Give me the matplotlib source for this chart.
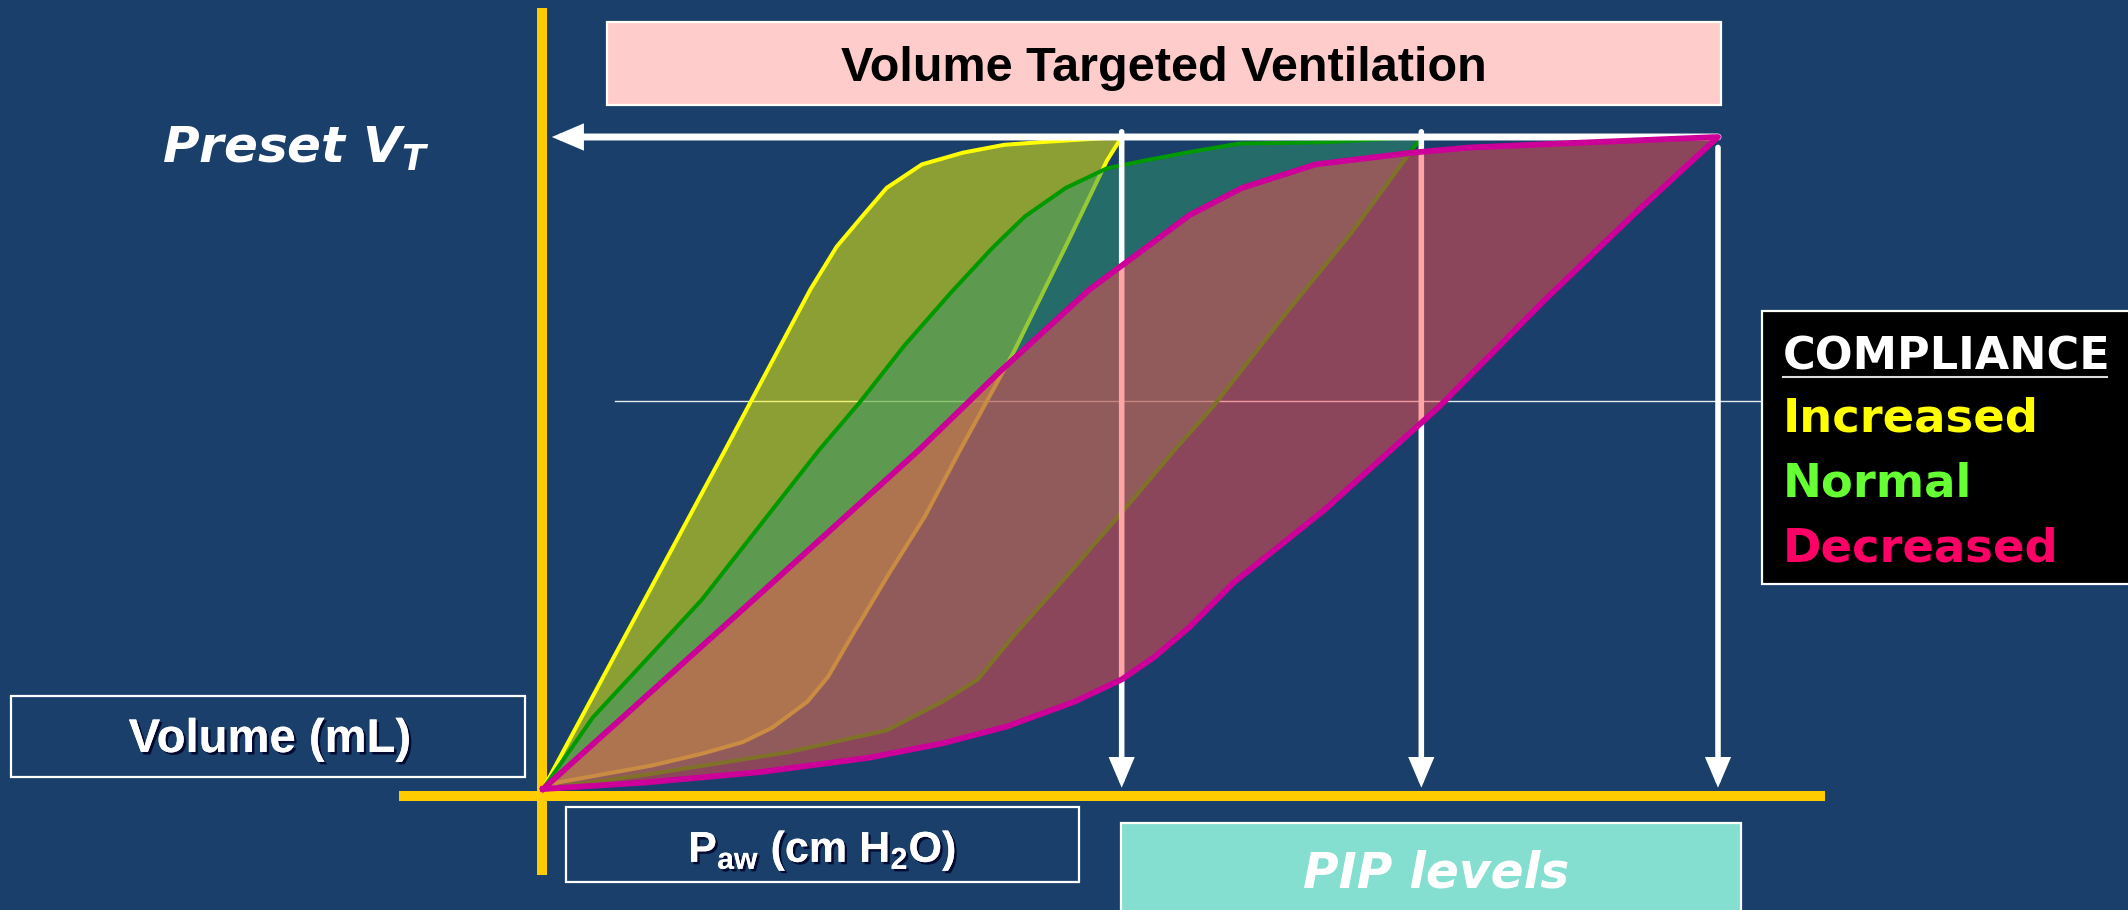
import matplotlib
matplotlib.use('Agg')
import matplotlib.pyplot as plt
import matplotlib.patheffects as pe
from matplotlib.patches import Rectangle

# Pressure-volume loops, volume targeted ventilation
# pressure in cm H2O, volume in mL
VT = 500
pip_levels = [19.7, 29.9, 40.0]

# Increased compliance
inc_up_p = [0, 6.2, 9.1, 10.0, 10.9, 11.7, 12.9, 14.3, 15.7, 16.9, 19.7]
inc_up_v = [0, 260, 383, 416, 440, 461, 479, 488, 494, 496, 500]
inc_lo_p = [19.7, 19.2, 17.9, 16.0, 14.2, 13.0, 11.8, 10.5, 9.7, 9.0, 7.8, 6.8, 5.4, 3.7, 0.5, 0]
inc_lo_v = [500, 482, 421, 334, 260, 209, 166, 117, 86, 67, 47, 36, 27, 18, 5, 0]

# Normal compliance
nor_up_p = [0, 1.7, 5.4, 9.4, 10.8, 12.3, 13.9, 15.3, 16.4, 17.8, 19.2, 20.5, 21.9, 23.7, 26.6, 29.9]
nor_up_v = [0, 55, 145, 260, 297, 340, 381, 415, 439, 461, 476, 482, 488, 495, 496, 500]
nor_lo_p = [29.9, 27.5, 25.3, 22.8, 21.5, 19.7, 17.7, 16.0, 14.8, 13.6, 11.7, 8.3, 3.5, 0]
nor_lo_v = [500, 426, 365, 293, 260, 212, 160, 117, 84, 67, 45, 28, 11, 0]

# Decreased compliance
dec_up_p = [0, 7.8, 12.8, 15.5, 18.6, 20.4, 22.0, 23.8, 26.3, 29.6, 31.6, 35.7, 40.0]
dec_up_v = [0, 158, 260, 319, 383, 413, 440, 461, 479, 488, 492, 496, 500]
dec_lo_p = [40.0, 37.2, 34.1, 30.5, 26.6, 23.5, 22.0, 20.8, 19.7, 18.1, 15.8, 13.6, 11.1, 7.4, 3.5, 0]
dec_lo_v = [500, 442, 375, 293, 214, 158, 124, 101, 84, 67, 48, 35, 24, 13, 5, 0]

legend_labels = ['Increased', 'Normal', 'Decreased']
legend_colors = ['#FFFF00', '#66FF33', '#FF0066']

W, H = 2128, 910
BG = '#193F6A'

plt.rcParams['mathtext.fontset'] = 'custom'
plt.rcParams['mathtext.rm'] = 'Liberation Sans:bold'
plt.rcParams['mathtext.it'] = 'DejaVu Sans:bold:italic'

fig = plt.figure(figsize=(W / 100, H / 100), dpi=100, facecolor=BG)
ax = fig.add_axes([0, 0, 1, 1])
ax.set_facecolor(BG)
ax.axis('off')

# origin of the loops sits at pixel (543, 789)
px_per_cm = 29.375
px_per_ml = 1.304
ax.set_xlim(-543 / px_per_cm, (W - 543) / px_per_cm)
ax.set_ylim(-(H - 789) / px_per_ml, 789 / px_per_ml)


def fx(x):
    return x / W


def fy(y):
    return 1 - y / H


tf = fig.transFigure

# thin reference line and yellow axes
ax.plot([fx(615), fx(1761)], [fy(401), fy(401)], color='#E4E9F0', lw=1.0,
        transform=tf, zorder=1, clip_on=False)
ax.plot([fx(542), fx(542)], [fy(8), fy(875)], color='#FFCC00', lw=7.2,
        solid_capstyle='butt', transform=tf, zorder=1.5, clip_on=False)
ax.plot([fx(399), fx(1825)], [fy(796), fy(796)], color='#FFCC00', lw=7.2,
        solid_capstyle='butt', transform=tf, zorder=1.5, clip_on=False)

# loops
ax.fill(inc_up_p + inc_lo_p, inc_up_v + inc_lo_v, color='#FFFF00', alpha=0.5,
        lw=0, zorder=2)
ax.plot(inc_up_p + inc_lo_p, inc_up_v + inc_lo_v, color='#FFFF00', lw=2.9,
        zorder=2.1, solid_joinstyle='round')

ax.fill(nor_up_p + nor_lo_p, nor_up_v + nor_lo_v, color='#2F976A', alpha=0.5,
        lw=0, zorder=3)
ax.plot(nor_up_p + nor_lo_p, nor_up_v + nor_lo_v, color='#009900', lw=2.9,
        zorder=3.1, solid_joinstyle='round')

# PIP arrows and preset VT arrow
astyle = '-|>,head_length=0.75,head_width=0.32'
arrow_tops = [VT + 4, VT + 4, VT - 8]
for p, top in zip(pip_levels, arrow_tops):
    ax.annotate('', xy=(p, 1), xytext=(p, top),
                arrowprops=dict(arrowstyle=astyle, mutation_scale=20,
                                color='white', lw=4.0, shrinkA=0, shrinkB=0,
                                joinstyle='miter'),
                zorder=3.5)
ax.annotate('', xy=(0.3, VT), xytext=(pip_levels[-1], VT),
            arrowprops=dict(arrowstyle=astyle, mutation_scale=19,
                            color='white', lw=5.0, shrinkA=0, shrinkB=0,
                            joinstyle='miter'),
            zorder=3.5)

ax.fill(dec_up_p + dec_lo_p, dec_up_v + dec_lo_v, color='#FF4D50', alpha=0.5,
        lw=0, zorder=4)
ax.plot(dec_up_p + dec_lo_p, dec_up_v + dec_lo_v, color='#CC0099', lw=4.2,
        zorder=5, solid_joinstyle='round')


def box(x0, y0, x1, y1, face):
    r = Rectangle((fx(x0), fy(y1)), (x1 - x0) / W, (y1 - y0) / H,
                  facecolor=face, edgecolor='white', lw=1.6,
                  transform=tf, zorder=6, clip_on=False)
    ax.add_patch(r)


shadow = [pe.withSimplePatchShadow(offset=(1.8, -1.8), shadow_rgbFace='#050A30',
                                   alpha=1.0), pe.Normal()]

# title
box(607, 22, 1721, 105, '#FFCCCC')
ax.text(fx(1164), fy(81), 'Volume Targeted Ventilation', transform=tf,
        ha='center', va='baseline', fontsize=35, fontweight='bold',
        family='Liberation Sans', color='black', zorder=7)

# preset VT label
ax.text(fx(162), fy(163), r'Preset V$_{T}$', transform=tf, ha='left',
        va='baseline', fontsize=36, fontweight='bold', fontstyle='italic',
        family='DejaVu Sans', color='white', zorder=7)

# axis labels
box(11, 696, 525, 777, BG)
ax.text(fx(270), fy(752), 'Volume (mL)', transform=tf, ha='center',
        va='baseline', fontsize=34, fontweight='bold', family='Liberation Sans',
        color='white', zorder=7, path_effects=shadow)
box(566, 807, 1079, 882, BG)
ax.text(fx(822), fy(862), r'P$_{\mathrm{aw}}$ (cm H$_{\mathrm{2}}$O)',
        transform=tf, ha='center', va='baseline', fontsize=31,
        fontweight='bold', family='Liberation Sans', color='white', zorder=7,
        path_effects=shadow)

# PIP levels
box(1121, 823, 1741, 915, '#84DFD0')
ax.text(fx(1436), fy(887), 'PIP levels', transform=tf, ha='center',
        va='baseline', fontsize=35, fontweight='bold', fontstyle='italic',
        family='DejaVu Sans', color='white', zorder=7)

# compliance legend
box(1762, 311, 2140, 584, 'black')
ax.text(fx(1783), fy(370), 'COMPLIANCE', transform=tf, ha='left',
        va='baseline', fontsize=32, fontweight='bold', family='DejaVu Sans',
        color='white', zorder=7)
ax.plot([fx(1783), fx(2107)], [fy(377), fy(377)], color='#DDDDDD', lw=1.5,
        transform=tf, zorder=7, clip_on=False)
for i, (lab, col) in enumerate(zip(legend_labels, legend_colors)):
    ax.text(fx(1783), fy(432 + 64.5 * i), lab, transform=tf, ha='left',
            va='baseline', fontsize=33.5, fontweight='bold',
            family='DejaVu Sans', color=col, zorder=7)

fig.savefig('out.png', dpi=100, facecolor=BG)
